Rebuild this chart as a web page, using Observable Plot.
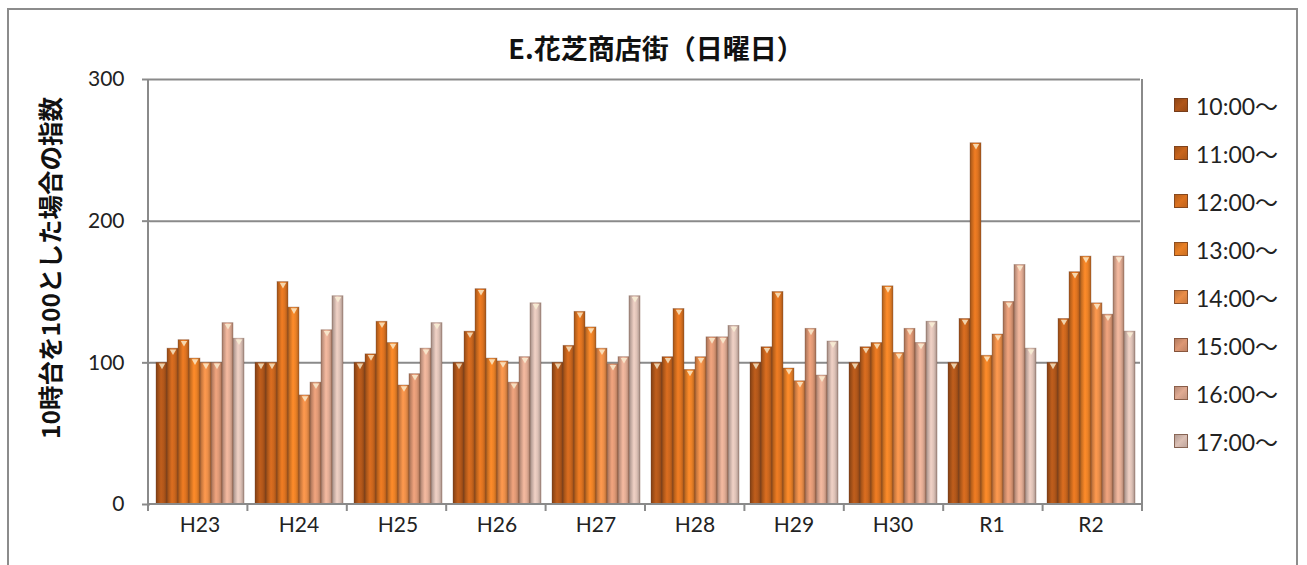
<!DOCTYPE html>
<html><head><meta charset="utf-8">
<script src="https://cdn.jsdelivr.net/npm/d3@7"></script>
<script src="https://cdn.jsdelivr.net/npm/@observablehq/plot@0.6"></script>
<style>
body{margin:0;background:#fff;font-family:Lato,"Noto Sans CJK JP",sans-serif;color:#222;}
#root{position:relative;width:1307px;height:565px;overflow:hidden;}
#box{position:absolute;left:7px;top:8px;width:1291px;height:600px;border:2px solid #8c8c8c;box-sizing:border-box;}
#title{position:absolute;left:0;top:32px;width:1312px;text-align:center;font:bold 27px "Noto Sans CJK JP",sans-serif;line-height:32px;color:#111;}
#ylabel{position:absolute;left:49px;top:268px;transform:translate(-50%,-50%) rotate(-90deg);white-space:nowrap;font:bold 24.5px "Noto Sans CJK JP",sans-serif;color:#111;}
#chart{position:absolute;left:0;top:60px;}
#legend{position:absolute;left:1174px;top:81px;}
.row{display:flex;align-items:center;height:48px;font:23px Lato,"Noto Sans CJK JP",sans-serif;color:#222;}
.sw{width:12px;height:12px;margin-right:8px;border:1px solid rgba(90,50,30,0.6);}
</style></head>
<body>
<div id="root">
<div id="box"></div>
<div id="title"></div>
<div id="ylabel"></div>
<div id="chart"></div>
<div id="legend"></div>
</div>
<script>
const titleText = "E.花芝商店街（日曜日）";
const yLabelText = "10時台を100とした場合の指数";
const years = ["H23","H24","H25","H26","H27","H28","H29","H30","R1","R2"];
const hours = ["10:00～","11:00～","12:00～","13:00～","14:00～","15:00～","16:00～","17:00～"];
const h10 = [100,100,100,100,100,100,100,100,100,100];
const h11 = [110,100,106,122,112,104,111,111,131,131];
const h12 = [116,157,129,152,136,138,150,114,255,164];
const h13 = [103,139,114,103,125,95,96,154,105,175];
const h14 = [100,77,84,101,110,104,87,107,120,142];
const h15 = [100,86,92,86,99,118,124,124,143,134];
const h16 = [128,123,110,104,104,118,91,114,169,175];
const h17 = [117,147,128,142,147,126,115,129,110,122];
const series = [h10,h11,h12,h13,h14,h15,h16,h17];
const baseColors = ["#b0561a","#c9651d","#dc7220","#e98026","#ea8d48","#dd9774","#e1ab93","#dcc0b5"];
const yTicks = [0,100,200,300];

document.getElementById("title").textContent = titleText;
document.getElementById("ylabel").textContent = yLabelText;

const data = years.flatMap((yr, j) => hours.map((h, i) => ({year: yr, hour: h, i, value: series[i][j]})));
const light = baseColors.map(c => d3.interpolateRgb(c, "#fff8dc")(0.75));

const chart = Plot.plot({
  width: 1160, height: 505,
  marginTop: 19, marginBottom: 61, marginLeft: 148, marginRight: 18,
  style: {fontFamily: 'Lato, "Noto Sans CJK JP", sans-serif', fontSize: "21px", color: "#222", background: "transparent"},
  fx: {domain: years, padding: 0, label: null},
  x: {domain: hours, paddingInner: 0, paddingOuter: 0.5, axis: null},
  y: {domain: [0, 300], label: null},
  color: {type: "identity"},
  marks: [
    Plot.ruleY([100, 200, 300], {stroke: "#8a8a8a", strokeWidth: 2}),
    Plot.barY(data, {fx: "year", x: "hour", y: "value", fill: d => `url(#grad${d.i})`, stroke: "#6e4430", strokeOpacity: 0.4, strokeWidth: 0.8}),
    Plot.dot(data, {fx: "year", x: "hour", y: "value", symbol: "triangle", rotate: 180, r: 2.4, dy: 2.6, fill: d => light[d.i], stroke: "none"}),
    Plot.axisY({ticks: yTicks, tickSize: 8, tickPadding: 18, stroke: "#8a8a8a", strokeWidth: 2, label: null, fontSize: 21, tickFormat: d => String(d)}),
    Plot.axisFx({anchor: "bottom", tickSize: 0, tickPadding: 13, label: null, fontSize: 21})
  ]
});
document.getElementById("chart").appendChild(chart);

// gradients
const svg = d3.select(chart.tagName.toLowerCase() === "svg" ? chart : chart.querySelector("svg"));
const defs = svg.insert("defs", ":first-child");
baseColors.forEach((c, i) => {
  const g = defs.append("linearGradient").attr("id", `grad${i}`).attr("x1", "0").attr("x2", "1").attr("y1", "0").attr("y2", "0");
  const stops = [[0, d3.color(c).darker(0.9)], [0.18, d3.color(c).darker(0.35)], [0.45, d3.color(c).brighter(0.25)], [0.72, d3.color(c)], [1, d3.color(c).darker(0.8)]];
  stops.forEach(([o, col]) => g.append("stop").attr("offset", o).attr("stop-color", col.formatHex()));
});

// plot-area frame and boundary ticks from the chart's scales
const fxs = chart.scale("fx"), ys = chart.scale("y");
const fxb = d3.scaleBand(fxs.domain, fxs.range).paddingInner(fxs.paddingInner || 0).paddingOuter(fxs.paddingOuter || 0).align(fxs.align ?? 0.5);
const yl = d3.scaleLinear(ys.domain, ys.range);
const [xL, xR] = fxs.range;
const y0 = yl(0), yTop = yl(300);
const gl = svg.append("g").attr("stroke", "#8a8a8a").attr("stroke-width", 2);
gl.append("line").attr("x1", xL).attr("x2", xL).attr("y1", yTop).attr("y2", y0);
gl.append("line").attr("x1", xR).attr("x2", xR).attr("y1", yTop).attr("y2", y0);
gl.append("line").attr("x1", xL).attr("x2", xR).attr("y1", y0).attr("y2", y0);
const bounds = years.map(y => fxb(y)).concat([fxb(years[years.length-1]) + fxb.bandwidth()]);
bounds.forEach(b => gl.append("line").attr("x1", b).attr("x2", b).attr("y1", y0).attr("y2", y0 + 7));

// legend
const leg = d3.select("#legend");
hours.forEach((h, i) => {
  const r = leg.append("div").attr("class", "row");
  r.append("div").attr("class", "sw").style("background", `linear-gradient(135deg, ${d3.color(baseColors[i]).darker(0.6)}, ${baseColors[i]} 50%, ${d3.color(baseColors[i]).darker(0.4)})`);
  r.append("span").text(h);
});
</script>
</body></html>
